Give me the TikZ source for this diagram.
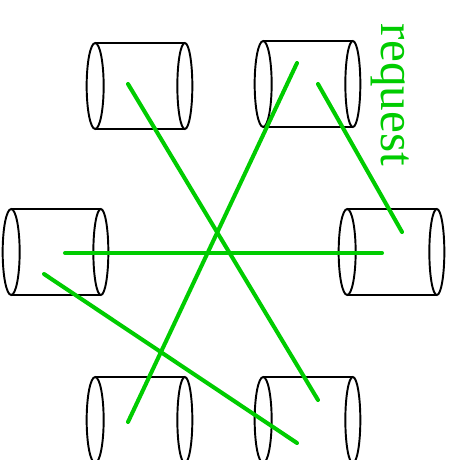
\documentclass[tikz,border=0pt]{standalone}
\usepackage{fontspec}
\setmainfont{Liberation Serif}
\usepackage{tikz}
\usetikzlibrary{calc}
\definecolor{reqgreen}{RGB}{0,204,0}

\begin{document}
\begin{tikzpicture}[
    x=0.02cm, y=-0.02cm,
    db/.style={rectangle, draw=none, inner sep=0pt,
               minimum width=1.78cm, minimum height=1.72cm},
    rim/.style={draw=black, line width=1.1pt},
    req/.style={draw=reqgreen, line width=2.3pt, line cap=round}
]
\useasboundingbox (0,0) rectangle (450,460);
\clip (0,0) rectangle (450,460);

% the six stores
\foreach \n/\x/\y in {tl/140/86, tr/308/84, ml/56/252, mr/392/252, bl/140/420, br/308/420} {
    \node[db] (\n) at (\x,\y) {};
    \draw[rim] (\n.north west) -- (\n.north east) (\n.south west) -- (\n.south east);
    \draw[rim] (\n.west) ellipse [x radius=0.17cm, y radius=0.86cm]
               (\n.east) ellipse [x radius=0.15cm, y radius=0.86cm];
}

% line ends
\coordinate (tl-a) at ($(tl)+(-12,-2)$);
\coordinate (br-a) at ($(br)+(10,-20)$);
\coordinate (tr-a) at ($(tr)+(-11,-21)$);
\coordinate (bl-a) at ($(bl)+(-12,2)$);
\coordinate (ml-a) at ($(ml)+(9,1)$);
\coordinate (mr-a) at ($(mr)+(-10,1)$);
\coordinate (tr-b) at ($(tr)+(10,0)$);
\coordinate (mr-b) at ($(mr)+(10,-20)$);
\coordinate (ml-b) at ($(ml)+(-12,22)$);
\coordinate (br-b) at ($(br)+(-11,23)$);

\draw[req] (tl-a) -- (br-a);
\draw[req] (tr-a) -- (bl-a);
\draw[req] (ml-a) -- (mr-a);
\draw[req] (tr-b) -- (mr-b);
\draw[req] (ml-b) -- (br-b);

\node[text=reqgreen, rotate=-90, inner sep=0pt,
      font=\fontsize{28}{32}\selectfont] (lbl) at (390,95) {request};
\end{tikzpicture}
\end{document}
